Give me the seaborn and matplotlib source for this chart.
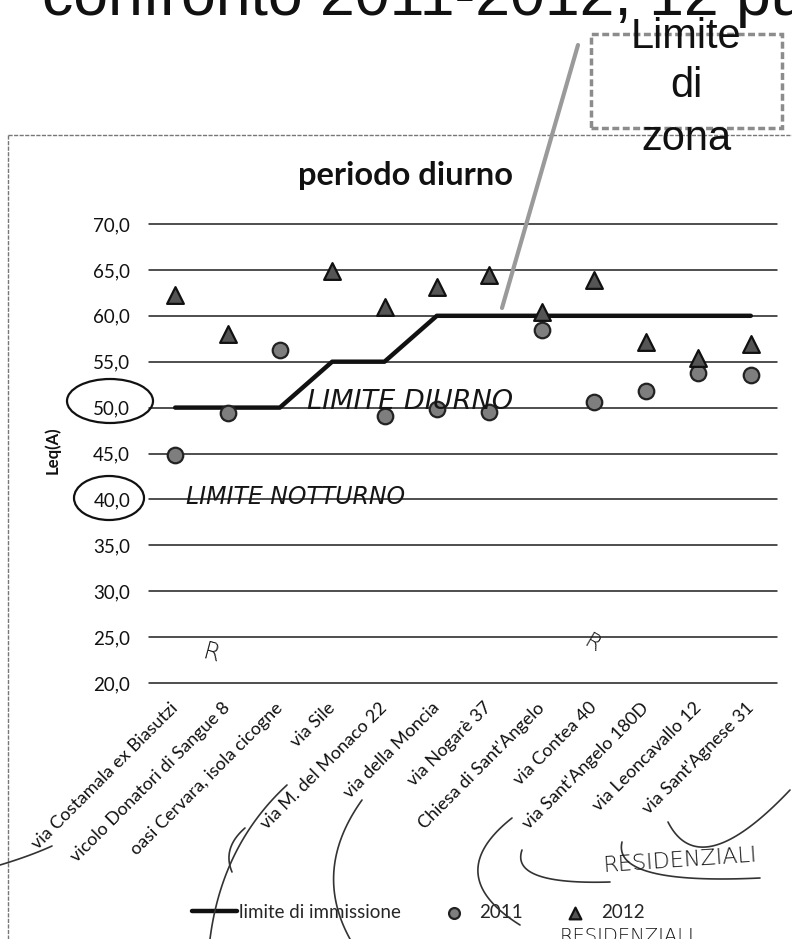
import numpy as np
import pandas as pd
import matplotlib
matplotlib.use("Agg")
import matplotlib.pyplot as plt
import seaborn as sns
from matplotlib.patches import Ellipse, Rectangle
from matplotlib.lines import Line2D
from matplotlib.transforms import ScaledTranslation, IdentityTransform

# ---------------- data ----------------
categories = [
    "via Costamala ex Biasutzi",
    "vicolo Donatori di Sangue 8",
    "oasi Cervara, isola cicogne",
    "via Sile",
    "via M. del Monaco 22",
    "via della Moncia",
    "via Nogarè 37",
    "Chiesa di Sant'Angelo",
    "via Contea 40",
    "via Sant'Angelo 180D",
    "via Leoncavallo 12",
    "via Sant'Agnese 31",
]
limite = [50, 50, 50, 55, 55, 60, 60, 60, 60, 60, 60, 60]
leq_2011 = [44.8, 49.4, 56.3, np.nan, 49.1, 49.9, 49.5, 58.5, 50.6, 51.8, 53.8, 53.6]
leq_2012 = [62.3, 58.0, np.nan, 64.9, 61.0, 63.1, 64.4, 60.4, 63.9, 57.2, 55.4, 56.9]
y_ticks = [20, 25, 30, 35, 40, 45, 50, 55, 60, 65, 70]
y_tick_labels = ["20,0", "25,0", "30,0", "35,0", "40,0", "45,0", "50,0",
                 "55,0", "60,0", "65,0", "70,0"]
series_labels = ["limite di immissione", "2011", "2012"]
title = "periodo diurno"
y_label = "Leq(A)"
page_title = "confronto 2011-2012, 12 punti"
callout_lines = ["Limite", "di", "zona"]

# ---------------- style ----------------
sns.set_theme(style="white")
plt.rcParams["font.family"] = ["Lato", "DejaVu Sans"]

W, H = 792, 939
fig = plt.figure(figsize=(W / 100, H / 100), dpi=100)
fig.patch.set_facecolor("white")


def fx(px):
    return px / W


def fy(py):
    return 1 - py / H


ax = fig.add_axes([fx(149), fy(683), (777 - 149) / W, (683 - 224) / H])

df = pd.DataFrame({
    "pos": np.arange(len(categories)),
    "categoria": categories,
    "limite": limite,
    "2011": leq_2011,
    "2012": leq_2012,
})

for y in y_ticks:
    ax.axhline(y, color="#1e1e1e", lw=1.1, zorder=1, clip_on=False)

sns.lineplot(data=df, x="pos", y="limite", color="#111111", lw=3.2, ax=ax,
             label=series_labels[0], zorder=3)
sns.scatterplot(data=df, x="pos", y="2011", marker="o", s=125, color="#7e7e7e",
                edgecolor="#222222", linewidth=1.6, ax=ax, label=series_labels[1],
                zorder=4)
sns.scatterplot(data=df, x="pos", y="2012", marker="^", s=145, color="#555555",
                edgecolor="#111111", linewidth=1.6, ax=ax, label=series_labels[2],
                zorder=4)

ax.set_xlim(-0.5, len(categories) - 0.5)
ax.set_ylim(min(y_ticks), max(y_ticks))
ax.set_yticks(y_ticks)
ax.set_yticklabels(y_tick_labels, fontsize=13.5, color="#111111")
ax.set_xticks(df["pos"])
ax.set_xticklabels(categories, fontsize=13, rotation=45, ha="right",
                   va="center", rotation_mode="anchor", color="#111111")
shift = ScaledTranslation(9 / 100, 0, fig.dpi_scale_trans)
for lab in ax.get_xticklabels():
    lab.set_transform(lab.get_transform() + shift)
ax.tick_params(axis="y", length=0, pad=13.5)
ax.tick_params(axis="x", length=0, pad=16)
ax.set_xlabel("")
ax.set_ylabel("")
for sp in ax.spines.values():
    sp.set_visible(False)
ax.set_facecolor("none")

# legend
handles, labels = ax.get_legend_handles_labels()
ax.legend(handles, labels, loc="center", bbox_to_anchor=(fx(418), fy(912)),
          bbox_transform=fig.transFigure, ncol=3, frameon=False, fontsize=13.5,
          handlelength=2.4, columnspacing=1.6, handletextpad=0.15,
          markerscale=0.7)

# titles
fig.text(fx(406), fy(185), title, fontsize=23.5, fontweight="bold",
         ha="center", va="baseline", color="#111111")
fig.text(fx(52), fy(450), y_label, fontsize=12, fontweight="bold",
         rotation=90, ha="center", va="center", color="#111111")
fig.text(fx(42), fy(15), page_title, fontsize=45, family="Liberation Sans",
         ha="left", va="baseline", color="#111111")

# chart frame (scanned border)
fig.add_artist(Line2D([fx(8), fx(792)], [fy(135), fy(135)], color="#777777",
                      lw=1.0, ls=(0, (3, 1))))
fig.add_artist(Line2D([fx(8), fx(8)], [fy(135), fy(939)], color="#777777",
                      lw=1.0, ls=(0, (3, 1))))

# callout box "Limite di zona"
fig.add_artist(Rectangle((fx(591), fy(128)), fx(782) - fx(591), fy(34) - fy(128),
                         fill=False, edgecolor="#8c8c8c", lw=2.5,
                         ls=(0, (2, 1))))
for txt, base in zip(callout_lines, [48, 97, 150]):
    fig.text(fx(686), fy(base), txt, fontsize=30, family="Liberation Sans",
             ha="center", va="baseline", color="#111111")
fig.add_artist(Line2D([fx(578), fx(502)], [fy(45), fy(308)], color="#9a9a9a",
                      lw=3.0))

# handwritten notes
hand = dict(family="DejaVu Sans", fontweight="light", color="#151515")
fig.text(fx(307), fy(409), "LIMITE DIURNO", fontsize=19.5, style="italic", **hand)
fig.text(fx(186), fy(504), "LIMITE NOTTURNO", fontsize=17, style="italic", **hand)
fig.text(fx(602), fy(872), "RESIDENZIALI", fontsize=16, rotation=4, **hand)
fig.text(fx(560), fy(942), "RESIDENZIALI", fontsize=14, **hand)
fig.text(fx(200), fy(662), "R", fontsize=17, rotation=-15, **hand)
fig.text(fx(580), fy(652), "R", fontsize=16, rotation=-30, **hand)

idt = IdentityTransform()
fig.add_artist(Ellipse((110, H - 401), 86, 44, fill=False, lw=1.6,
                       edgecolor="#111111", transform=idt))
fig.add_artist(Ellipse((109, H - 498), 70, 44, fill=False, lw=1.6,
                       edgecolor="#111111", transform=idt))

scribbles = [
    [(287, 785), (222, 845), (210, 939)],
    [(245, 828), (222, 848), (232, 872)],
    [(362, 800), (312, 870), (350, 939)],
    [(512, 818), (440, 875), (520, 925)],
    [(522, 850), (510, 885), (610, 882)],
    [(622, 842), (612, 885), (760, 878)],
    [(668, 822), (700, 885), (790, 790)],
    [(0, 865), (30, 856), (52, 846)],
]
tt = np.linspace(0, 1, 60)
for p0, p1, p2 in scribbles:
    xs = (1 - tt) ** 2 * p0[0] + 2 * (1 - tt) * tt * p1[0] + tt ** 2 * p2[0]
    ys = (1 - tt) ** 2 * p0[1] + 2 * (1 - tt) * tt * p1[1] + tt ** 2 * p2[1]
    fig.add_artist(Line2D(xs, H - ys, color="#333333", lw=1.2, transform=idt))

fig.savefig("out.png", dpi=100, facecolor="white")
